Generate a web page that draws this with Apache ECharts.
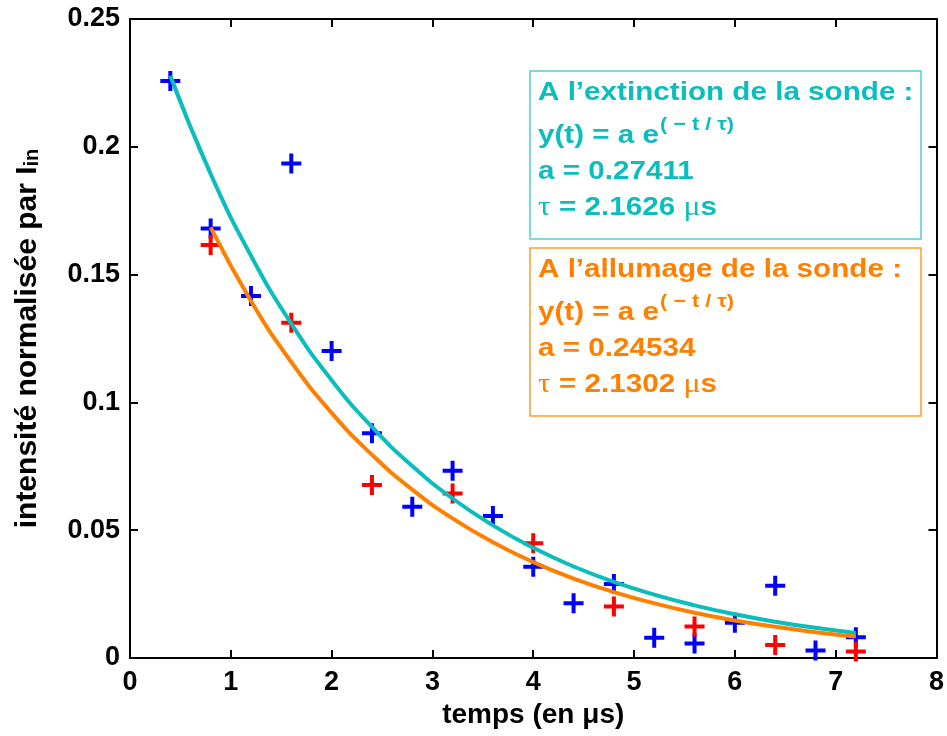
<!DOCTYPE html>
<html>
<head>
<meta charset="utf-8">
<script src="https://cdn.jsdelivr.net/npm/echarts@6/dist/echarts.min.js"></script>
<style>
  html, body { margin: 0; padding: 0; background: #fff; }
  #chart { width: 947px; height: 736px; }
</style>
</head>
<body>
<div id="chart"></div>
<script>
// measured points (blue: extinction, red: allumage)
const tBlue = [0.4, 0.8, 1.2, 1.6, 2.0, 2.4, 2.8, 3.2, 3.6, 4.0, 4.4, 4.8, 5.2, 5.6, 6.0, 6.4, 6.8, 7.2]
const yBlue = [0.2257, 0.168, 0.1416, 0.1935, 0.1201, 0.0879, 0.0592, 0.0733, 0.0556, 0.0357, 0.0214, 0.029, 0.0079, 0.0057, 0.0138, 0.0283, 0.0029, 0.0081]
const tRed = [0.8, 1.6, 2.4, 3.2, 4.0, 4.8, 5.6, 6.4, 7.2]
const yRed = [0.1616, 0.1312, 0.0677, 0.0644, 0.0449, 0.0201, 0.0123, 0.0051, 0.0025]

// fitted curves, read at each 0.4 us
const tFitCyan = [0.4, 0.8, 1.2, 1.6, 2.0, 2.4, 2.8, 3.2, 3.6, 4.0, 4.4, 4.8, 5.2, 5.6, 6.0, 6.4, 6.8, 7.2]
const yFitCyan = [0.2278, 0.1894, 0.1574, 0.1308, 0.1087, 0.0904, 0.0751, 0.0624, 0.0519, 0.0431, 0.0358, 0.0298, 0.0248, 0.0206, 0.0171, 0.0142, 0.0118, 0.0098]
const tFitOrange = [0.8, 1.2, 1.6, 2.0, 2.4, 2.8, 3.2, 3.6, 4.0, 4.4, 4.8, 5.2, 5.6, 6.0, 6.4, 6.8, 7.2]
const yFitOrange = [0.1685, 0.1397, 0.1158, 0.0959, 0.0795, 0.0659, 0.0546, 0.0453, 0.0375, 0.0311, 0.0258, 0.0214, 0.0177, 0.0147, 0.0122, 0.0101, 0.0084]

const xTicks = [0, 1, 2, 3, 4, 5, 6, 7, 8]
const yTicks = [0, 0.05, 0.1, 0.15, 0.2, 0.25]

const CYAN = '#0BBDBD'
const ORANGE = '#FF8000'
const FONT = 'Liberation Sans, Arial, Helvetica, sans-serif'
const PLUS = 'path://M8,0H12V8H20V12H12V20H8V12H0V8H8Z'

const zip = (xs, ys) => xs.map((x, i) => [x, ys[i]])

const chart = echarts.init(document.getElementById('chart'))

// fresh axis object each time, box-style axes with inward ticks
const axis = (extra) => Object.assign({
  type: 'value',
  axisLine: { show: true, onZero: false, lineStyle: { color: '#000', width: 2 } },
  axisTick: { show: true, inside: true, length: 8, lineStyle: { color: '#000', width: 2 } },
  splitLine: { show: false }
}, extra)

const tickFont = () => ({ color: '#000', fontWeight: 'bold', fontSize: 27, fontFamily: FONT })

// text lines inside the two fit boxes
const boxText = (x, y, text, color, extra) => ({
  type: 'text', x: x, y: y, scaleX: 1.14, z: 101,
  style: Object.assign({
    text: text,
    fill: color,
    font: 'bold 26px ' + FONT,
    verticalAlign: 'middle'
  }, extra || {})
})

const fitBox = (top, color, border, title, aText, tauText) => [
  { type: 'rect', z: 100, shape: { x: 530, y: top, width: 391, height: 168 },
    style: { fill: '#fff', stroke: border, lineWidth: 1.5 } },
  boxText(538, top + 22, title, color),
  boxText(538, top + 65, 'y(t) = a e', color),
  boxText(660, top + 54, '( \u2212 t / \u03c4)', color, { font: 'bold 19px ' + FONT }),
  boxText(538, top + 101, aText, color),
  boxText(538, top + 137, '{g|\u03c4} = ' + tauText + ' {g|\u03bc}s', color, {
    rich: { g: { fontFamily: 'Liberation Serif, serif', fontSize: 28, fill: color } }
  })
]

chart.setOption({
  animation: false,
  backgroundColor: '#fff',
  grid: { left: 130, right: 8, top: 19, bottom: 78 },
  xAxis: [
    axis({
      min: xTicks[0], max: xTicks[xTicks.length - 1], interval: 1,
      name: 'temps (en \u03bcs)', nameLocation: 'middle', nameGap: 43,
      nameTextStyle: { color: '#000', fontWeight: 'bold', fontSize: 28, fontFamily: FONT },
      axisLabel: Object.assign({ margin: 11 }, tickFont())
    }),
    axis({
      position: 'top', min: xTicks[0], max: xTicks[xTicks.length - 1], interval: 1,
      axisLabel: { show: false }
    })
  ],
  yAxis: [
    axis({
      min: yTicks[0], max: yTicks[yTicks.length - 1], interval: 0.05,
      name: '{m|intensit\u00e9 normalis\u00e9e par I}{s|in}',
      nameLocation: 'middle', nameRotate: 90, nameGap: 84,
      nameTextStyle: {
        color: '#000', fontWeight: 'bold', fontSize: 30, fontFamily: FONT,
        rich: {
          m: { color: '#000', fontWeight: 'bold', fontSize: 30, fontFamily: FONT, lineHeight: 30, padding: [0, 0, 14, 0], verticalAlign: 'top' },
          s: { color: '#000', fontWeight: 'bold', fontSize: 20, fontFamily: FONT, lineHeight: 20, verticalAlign: 'bottom' }
        }
      },
      axisLabel: Object.assign({ margin: 10 }, tickFont())
    }),
    axis({
      position: 'right', min: yTicks[0], max: yTicks[yTicks.length - 1], interval: 0.05,
      axisLabel: { show: false }
    })
  ],
  series: [
    {
      type: 'scatter', data: zip(tBlue, yBlue), symbol: PLUS, symbolSize: 20,
      itemStyle: { color: '#0000FF', opacity: 1 }, z: 3
    },
    {
      type: 'scatter', data: zip(tRed, yRed), symbol: PLUS, symbolSize: 20,
      itemStyle: { color: '#FF0000', opacity: 1 }, z: 3
    },
    {
      type: 'line', data: zip(tFitCyan, yFitCyan), smooth: true, showSymbol: false,
      lineStyle: { color: CYAN, width: 4 }, z: 4
    },
    {
      type: 'line', data: zip(tFitOrange, yFitOrange), smooth: true, showSymbol: false,
      lineStyle: { color: ORANGE, width: 4 }, z: 5
    }
  ],
  graphic: [].concat(
    fitBox(71, CYAN, '#4FCFCF', 'A l\u2019extinction de la sonde :', 'a = 0.27411', '2.1626'),
    fitBox(248, ORANGE, '#FF9A33', 'A l\u2019allumage de la sonde :', 'a = 0.24534', '2.1302')
  )
})
</script>
</body>
</html>
